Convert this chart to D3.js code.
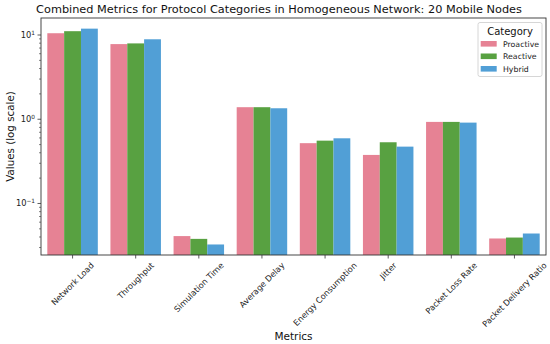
<!DOCTYPE html>
<html><head><meta charset="utf-8">
<script src="https://cdn.jsdelivr.net/npm/d3@7"></script>
<style>body{margin:0;background:#fff}svg{display:block;font-family:"DejaVu Sans",sans-serif}</style>
</head><body><svg id="c" width="550" height="344"></svg>
<script>
const categories = ["Network Load","Throughput","Simulation Time","Average Delay","Energy Consumption","Jitter","Packet Loss Rate","Packet Delivery Ratio"];
const seriesNames = ["Proactive","Reactive","Hybrid"];
const proactive = [10.5, 7.8, 0.041, 1.39, 0.52, 0.377, 0.93, 0.0384];
const reactive  = [11.1, 7.95, 0.038, 1.39, 0.557, 0.533, 0.93, 0.0394];
const hybrid    = [11.9, 8.9, 0.0326, 1.35, 0.594, 0.473, 0.912, 0.044];
const colors = ["#e68294", "#58a141", "#519fd6"];
const yTicks = [0.1, 1, 10];
const yTickExp = ["\u22121", "0", "1"];

const series = [proactive, reactive, hybrid];
const svg = d3.select("#c");
const m = {l:41, r:546, t:18, b:255};
const x = d3.scaleBand().domain(categories).range([m.l, m.r]).paddingInner(0.2).paddingOuter(0.1);
const xs = d3.scaleBand().domain(seriesNames).range([0, x.bandwidth()]);
const y = d3.scaleLog().domain([0.02445, 15.92]).range([m.b, m.t]);

// bars
series.forEach((vals, si) => {
  svg.append("g").selectAll("rect").data(vals).join("rect")
    .attr("x", (d,i) => x(categories[i]) + xs(seriesNames[si]))
    .attr("width", xs.bandwidth())
    .attr("y", d => y(d))
    .attr("height", d => m.b - y(d))
    .attr("fill", colors[si]);
});

// frame
svg.append("rect").attr("x", m.l).attr("y", m.t).attr("width", m.r-m.l).attr("height", m.b-m.t)
  .attr("fill","none").attr("stroke","#333").attr("stroke-width",0.9);

// y axis ticks
const minor = [];
[0.01,0.1,1,10].forEach(dec => { for (let k=2;k<=9;k++){ const v=dec*k; if (v>y.domain()[0] && v<y.domain()[1]) minor.push(v);} });
svg.append("g").selectAll("line").data(minor).join("line")
  .attr("x1", m.l-2).attr("x2", m.l).attr("y1", d=>y(d)).attr("y2", d=>y(d))
  .attr("stroke","#333").attr("stroke-width",0.6);
svg.append("g").selectAll("line").data(yTicks).join("line")
  .attr("x1", m.l-3.5).attr("x2", m.l).attr("y1", d=>y(d)).attr("y2", d=>y(d))
  .attr("stroke","#333").attr("stroke-width",0.8);
const yl = svg.append("g").selectAll("text").data(yTicks).join("text")
  .attr("x", m.l-6).attr("y", d=>y(d)+3).attr("text-anchor","end")
  .attr("font-size", 8.3).attr("fill","#222");
yl.append("tspan").text("10");
yl.append("tspan").attr("dy",-3.5).attr("font-size",5.8).text((d,i)=>yTickExp[i]);

// x ticks
svg.append("g").selectAll("line").data(categories).join("line")
  .attr("x1", d=>x(d)+x.bandwidth()/2).attr("x2", d=>x(d)+x.bandwidth()/2)
  .attr("y1", m.b).attr("y2", m.b+3.5).attr("stroke","#333").attr("stroke-width",0.8);
const xl = svg.append("g").selectAll("text").data(categories).join("text")
  .attr("font-size", 8.2).attr("fill","#222").attr("text-anchor","middle")
  .text(d=>d);
xl.each(function(d){
  const w = this.getComputedTextLength();
  const h = 8.2;
  const bh = (w + h) * Math.SQRT1_2;
  const cx = x(d) + x.bandwidth()/2;
  const cy = m.b + 6 + bh/2;
  d3.select(this).attr("transform", `translate(${cx},${cy}) rotate(-45)`).attr("dy","0.35em");
});

// titles
svg.append("text").attr("x", 279).attr("y", 13).attr("text-anchor","middle")
  .attr("font-size", 11.3).attr("fill","#111").text("Combined Metrics for Protocol Categories in Homogeneous Network: 20 Mobile Nodes");
svg.append("text").attr("x", (m.l+m.r)/2).attr("y", 340).attr("text-anchor","middle")
  .attr("font-size", 10.5).attr("fill","#111").text("Metrics");
svg.append("text").attr("transform", `translate(14,${(m.t+m.b)/2}) rotate(-90)`).attr("text-anchor","middle")
  .attr("font-size", 10.3).attr("fill","#111").text("Values (log scale)");

// legend
const lg = svg.append("g");
lg.append("rect").attr("x",478).attr("y",22.5).attr("width",64).attr("height",54).attr("rx",2)
  .attr("fill","#fff").attr("fill-opacity",0.8).attr("stroke","#ccc").attr("stroke-width",0.8);
lg.append("text").attr("x",510).attr("y",34.5).attr("text-anchor","middle").attr("font-size",10).attr("fill","#111").text("Category");
seriesNames.forEach((s,i)=>{
  const cy = 44 + i*12.5;
  lg.append("rect").attr("x",480.7).attr("y",cy-3).attr("width",16).attr("height",5.6).attr("fill",colors[i]);
  lg.append("text").attr("x",503).attr("y",cy+2.8).attr("font-size",7.8).attr("fill","#222").text(s);
});
</script></body></html>
